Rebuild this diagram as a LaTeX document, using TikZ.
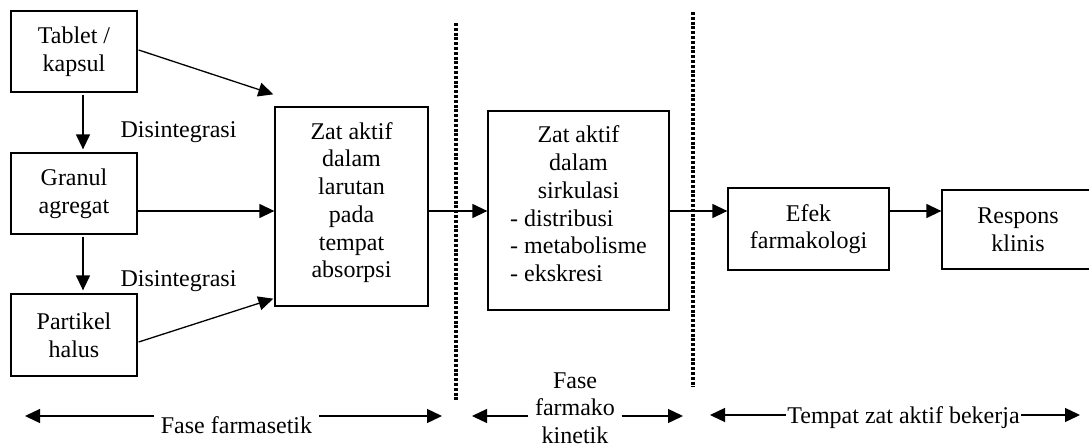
\documentclass[tikz,border=0pt]{standalone}
\usepackage{fontspec}
\setmainfont{Liberation Serif}
\usetikzlibrary{arrows.meta,calc,positioning}
\newcommand{\lowpad}[1]{\rule[-#1]{0pt}{#1}}

\begin{document}
\begin{tikzpicture}[x=1pt,y=-1pt,>={Triangle[length=15pt,width=14pt]},line width=1.3pt,
  every node/.style={font=\fontsize{24}{27.7}\selectfont},
  panel/.style={draw,inner sep=0pt},
  box/.style={panel,align=center},
  lbl/.style={inner xsep=6pt,inner ysep=2pt},
  dotline/.style={line width=3.2pt,dash pattern=on 3pt off 1.8pt}]
\useasboundingbox (0,0) rectangle (1089,447);
\node[box,minimum width=126pt,minimum height=81pt] (tablet) at (74,51.5) {Tablet /\\kapsul};
\node[box,minimum width=126pt,minimum height=81pt] (granul) at (74,193.5) {Granul\\agregat};
\node[box,minimum width=126pt,minimum height=82pt] (partikel) at (74,335) {Partikel\\halus};
\node[box,minimum width=153pt,minimum height=199pt] (larutan) at (351.5,206.5)
  {Zat aktif\\dalam\\larutan\\pada\\tempat\\absorpsi\lowpad{13pt}};
\node[panel,minimum width=181pt,minimum height=199pt] (sirkulasi) at (578.5,210.5)
  {\begin{tabular}{@{}l@{}}
   \multicolumn{1}{@{}c@{}}{Zat aktif}\\
   \multicolumn{1}{@{}c@{}}{dalam}\\
   \multicolumn{1}{@{}c@{}}{sirkulasi}\\
   - distribusi\\
   - metabolisme\\
   - ekskresi\lowpad{16pt}
   \end{tabular}};
\node[box,minimum width=161pt,minimum height=82pt] (efek) at (808.5,229) {Efek\\farmakologi};
\node[box,minimum width=152pt,minimum height=79pt] (respons) at (1018,229.5) {Respons\\klinis};
\node[anchor=base] (dis1) at (178.5,137.5) {Disintegrasi};
\node[anchor=base] (dis2) at (178.5,286) {Disintegrasi};
\coordinate (axis) at (0,211);
\draw[->] ($(tablet.south)+(9,2)$) -- ($(granul.north)+(9,-3)$);
\draw[->] ($(granul.south)+(9,2)$) -- ($(partikel.north)+(9,-3)$);
\draw[->] ($(tablet.east)+(1,-1.5)$) -- ($(larutan.north west)+(-1,-12)$);
\draw[->] (granul.east |- axis) -- (larutan.west |- axis);
\draw[->] ($(partikel.east)+(1,7)$) -- ($(larutan.south west)+(-1,-8)$);
\draw[->] (larutan.east |- axis) -- (sirkulasi.west |- axis);
\draw[->] (sirkulasi.east |- axis) -- (efek.west |- axis);
\draw[->] (efek.east |- axis) -- (respons.west |- axis);
\draw[dotline] (456,23) -- (456,400);
\draw[dotline] (693,12) -- (693,387);
\node[lbl,anchor=base] (farmasetik) at (236.5,433) {Fase farmasetik};
\coordinate (fs-l) at (25,416);
\coordinate (fs-r) at (442,416);
\draw[->] (farmasetik.west |- fs-l) -- (fs-l);
\draw[->] (farmasetik.east |- fs-r) -- (fs-r);
\node[lbl,align=center] (farmako) at (575,408) {Fase\\farmako\\kinetik};
\coordinate (fk-l) at (472,416);
\coordinate (fk-r) at (683,416);
\draw[->] (farmako.west |- fk-l) -- (fk-l);
\draw[->] (farmako.east |- fk-r) -- (fk-r);
\node[lbl,inner xsep=1pt,anchor=base] (tempat) at (903.5,423) {Tempat zat aktif bekerja};
\coordinate (tz-l) at (710,415);
\coordinate (tz-r) at (1080,415);
\draw[->] (tempat.west |- tz-l) -- (tz-l);
\draw[->] (tempat.east |- tz-r) -- (tz-r);
\end{tikzpicture}
\end{document}
